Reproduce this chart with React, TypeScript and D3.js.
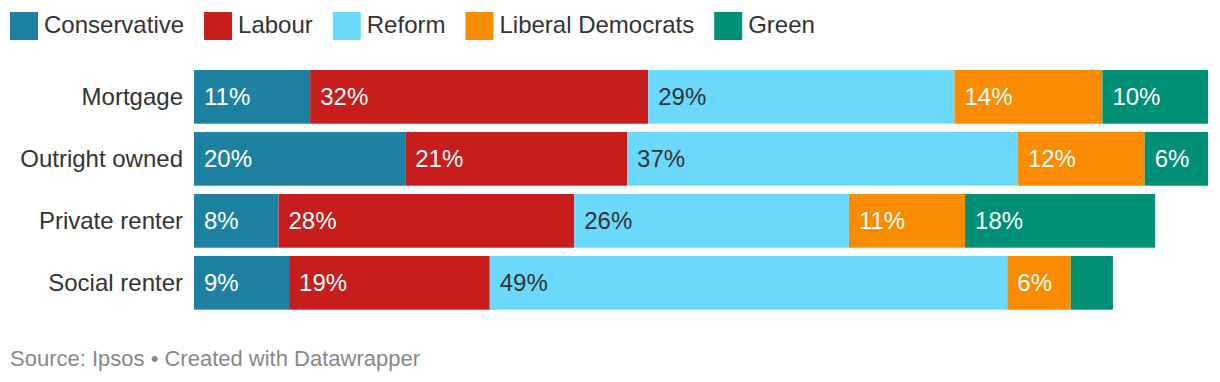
import React from "react";
import * as d3 from "d3";

const categories = ["Mortgage", "Outright owned", "Private renter", "Social renter"];
const parties = ["Conservative", "Labour", "Reform", "Liberal Democrats", "Green"];
const conservative = [11, 20, 8, 9];
const labour = [32, 21, 28, 19];
const reform = [29, 37, 26, 49];
const libdem = [14, 12, 11, 6];
const green = [10, 6, 18, 4];
const seriesValues = [conservative, labour, reform, libdem, green];
const colors = ["#1d81a2", "#c71e1d", "#6bd9fb", "#f98c00", "#009076"];
const textColors = ["#ffffff", "#ffffff", "#333333", "#ffffff", "#ffffff"];
const sourceText = "Source: Ipsos • Created with Datawrapper";

const W = 1220;
const H = 382;
const FONT = '"Liberation Sans", Arial, Helvetica, sans-serif';

function measure(text: string, size: number): number {
  if (typeof document === "undefined") return text.length * size * 0.55;
  const c = document.createElement("canvas").getContext("2d");
  if (!c) return text.length * size * 0.55;
  c.font = `${size}px ${FONT}`;
  return c.measureText(text).width;
}

export default function App() {
  const totals = categories.map((_, i) => d3.sum(seriesValues, (s) => s[i]));
  const x = d3.scaleLinear().domain([0, d3.max(totals) as number]).range([194, 1208]);
  const y = d3
    .scaleBand<string>()
    .domain(categories)
    .range([70, 309.7])
    .paddingInner(0.134)
    .paddingOuter(0);

  const table = categories.map((c, i) => {
    const row: any = { category: c };
    parties.forEach((p, j) => (row[p] = seriesValues[j][i]));
    return row;
  });
  const stacked = d3.stack<any>().keys(parties)(table);

  const legendItems: { name: string; x: number; color: string }[] = [];
  let lx = 10;
  parties.forEach((p, j) => {
    legendItems.push({ name: p, x: lx, color: colors[j] });
    lx += 28 + 6 + measure(p, 24) + 20;
  });

  const bw = y.bandwidth();

  return (
    <svg
      width={W}
      height={H}
      style={{ position: "absolute", left: 0, top: 0, fontFamily: FONT }}
    >
      <rect x={0} y={0} width={W} height={H} fill="#ffffff" />
      {legendItems.map((l) => (
        <g key={l.name}>
          <rect x={l.x} y={12} width={28} height={28} fill={l.color} />
          <text x={l.x + 34} y={33} fontSize={24} fill="#333333">
            {l.name}
          </text>
        </g>
      ))}
      {categories.map((c) => (
        <text
          key={c}
          x={183}
          y={(y(c) as number) + bw / 2 + 8}
          fontSize={24}
          fill="#333333"
          textAnchor="end"
        >
          {c}
        </text>
      ))}
      {stacked.map((layer, j) =>
        layer.map((d, i) => {
          const x0 = x(d[0]);
          const x1 = x(d[1]);
          const cy = (y(categories[i]) as number) + bw / 2;
          const label = `${seriesValues[j][i]}%`;
          const show = x1 - x0 >= measure(label, 24) + 20;
          return (
            <g key={`${j}-${i}`}>
              <rect
                x={x0}
                y={y(categories[i])}
                width={Math.max(0, x1 - x0)}
                height={bw}
                fill={colors[j]}
              />
              {show && (
                <text x={x0 + 10} y={cy + 8} fontSize={24} fill={textColors[j]}>
                  {label}
                </text>
              )}
            </g>
          );
        })
      )}
      <text x={10} y={366} fontSize={22} fill="#888888">
        {sourceText}
      </text>
    </svg>
  );
}
